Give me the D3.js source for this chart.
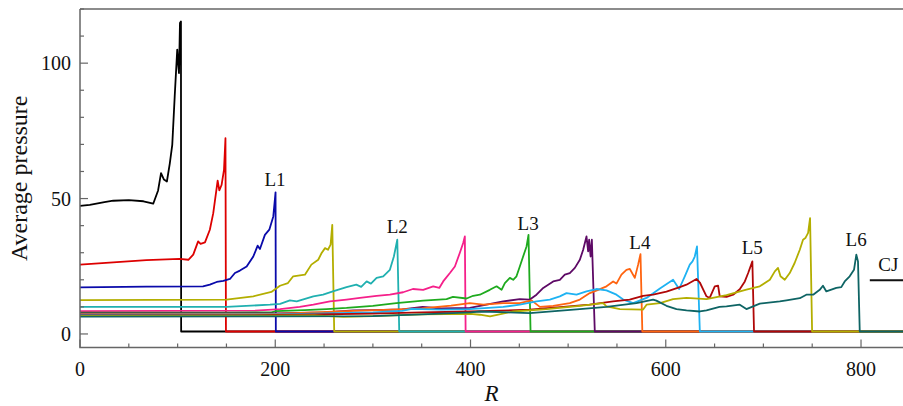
<!DOCTYPE html>
<html>
<head>
<meta charset="utf-8">
<script src="https://cdn.jsdelivr.net/npm/d3@7"></script>
<style>
  body { margin: 0; background: #fff; }
  svg { display: block; }
  text { font-family: "Liberation Serif", "DejaVu Serif", serif; fill: #111; }
</style>
</head>
<body>
<script>
// Data: [R, average pressure] pairs
const sBlack = [[0,47.3],[10,47.7],[25,48.7],[34,49.2],[50,49.4],[65,49],[75,48.1],[80,53],[83,59.4],[86,57],[89,56.3],[92,63],[94.5,69.8],[97,87.7],[99.6,105],[100.5,100],[101.4,96.3],[102.4,114.8],[103.4,115.4],[103.6,0.9],[843,0.9]];
const sRed = [[0,25.6],[34,26.4],[68,27.3],[102,27.7],[111,27.4],[116,29.3],[121,34.2],[123.5,33.3],[128,33.8],[133,38.5],[136.5,44.6],[141,56.6],[142.7,53],[145,55],[147.5,60.6],[149,72.3],[149.5,0.9],[843,0.9]];
const sBlue = [[0,17.2],[68,17.5],[126,17.6],[133,18.2],[140,19.2],[146.8,19.6],[153.6,20.3],[158.7,22.5],[163.8,23.4],[170.7,24.9],[177.5,28.6],[182,32.6],[184.3,31.4],[189.4,36.6],[193.9,38.5],[198,43.4],[200.3,52.3],[200.6,0.9],[843,0.9]];
const sOlive1 = [[0,12.5],[150,12.7],[177.5,13.9],[196,15.5],[204.8,17.8],[213,18.8],[218.4,21.3],[230.4,21.9],[237,25.6],[244,27.4],[247.5,29.9],[251,31.7],[254,31.1],[256.7,33],[258.4,40.3],[260.4,0.9],[843,0.9]];
const sCyan = [[0,10],[150,10],[194.6,10.8],[205,11.1],[215,12.4],[222,12],[239,13.9],[249,14.5],[259,15.7],[273,17.3],[283,18.2],[288,17.4],[293.6,19.4],[298,18.6],[303.8,20.7],[310.6,21.3],[317.4,23.7],[321.5,28.6],[325,34.8],[327,0.9],[843,0.9]];
const sPink = [[0,8.4],[180,8.6],[205,9.2],[225,10],[239,10.8],[256,12],[273,12.7],[286.7,13.3],[303.8,14.1],[317.4,14.5],[331,15.4],[341,16.6],[351.5,16.3],[361.8,17.6],[368,17],[372,19.4],[378.9,22.5],[384,24.9],[389,29.9],[392.5,33.6],[394.2,36],[395,0.9],[843,0.9]];
const sGreen = [[0,7.9],[150,7.9],[196,8],[201,8.4],[230,8.8],[252.5,9.2],[273,9.6],[300,10.4],[324,11.4],[351.5,12.3],[375.5,12.9],[382,13.7],[396,13.1],[402.7,14.1],[409.6,14.5],[419.8,16.3],[426.7,17.6],[431.8,16.3],[435.2,18.8],[440.3,20.7],[443.7,20],[447.1,21.3],[450.5,24.9],[453.9,28.6],[457.4,32.3],[459.4,36.6],[461.5,0.9],[843,0.9]];
const sPurple = [[0,7.6],[200,7.6],[250,8],[280,8.7],[300,8.8],[330,9.1],[351,10],[370,9.4],[399.3,9.6],[416.4,10.8],[433.5,12],[450.5,12.9],[460.8,12.7],[467.6,14.5],[474.5,17],[484.7,19.4],[491.5,20],[496.6,21.9],[501.7,22.5],[506.9,24.4],[512,27.4],[515.4,31.1],[518.8,36],[520.5,30.5],[521.5,34.8],[523,28.6],[524.3,34.8],[527.3,0.9],[843,0.9]];
const sOrange = [[0,7.3],[200,7.4],[240,8],[280,8.5],[320,9],[350,9.4],[380,10.5],[399.3,11.4],[413,10.8],[433.5,11.4],[450.5,11.4],[462.5,12.4],[471,10],[484.7,10.4],[501.7,11.4],[512,12.7],[522.2,15.1],[530.8,16.3],[539.3,17.6],[546.1,19.4],[549.5,18.6],[554.6,21.9],[559.7,23.7],[563.2,24],[568.3,20.7],[571.7,25.6],[574.1,29.5],[576,0.9],[843,0.9]];
const sSky = [[0,7.1],[200,7.2],[250,7.6],[300,8],[330,8.5],[340,9.3],[370,9],[399,9.2],[433.5,10],[450.5,10.8],[467.6,12],[481.3,12.7],[491.5,13.9],[498.3,15.1],[508.6,14.5],[518.8,15.7],[529,16.6],[539.3,16.1],[549.5,14.5],[556.4,12.7],[566.6,11.4],[580.3,13.3],[594,16.8],[607.5,20],[613.7,16.6],[619.5,21.3],[624.6,25.6],[627.4,26.8],[629.7,28.6],[632,32.3],[634.9,0.9],[843,0.9]];
const sDarkRed = [[0,6.9],[200,7],[300,7.5],[350,8],[400,8.3],[430,8.6],[460.8,9],[494.9,10],[522,10.8],[546,12],[563,12.7],[576.8,14.1],[587,14.5],[600.7,15.6],[614.4,17.3],[621.2,18.2],[631.5,20.3],[634.9,19],[641.7,13.9],[645,13.3],[650.2,17.6],[653.6,17.8],[655.3,13.9],[662.2,13.7],[669,14.5],[675.8,16.5],[681,19.4],[684.4,22.5],[688.7,26.8],[690.4,0.9],[843,0.9]];
const sOlive2 = [[0,6.7],[200,6.8],[240,6.9],[270,6.3],[300,6.6],[350,7.2],[400,7.4],[409.6,7.1],[420,6.5],[443.7,8.3],[478,9.2],[512,10.4],[535.8,11.4],[539.3,10.2],[553,9.2],[576.8,9],[580.3,10.8],[594,11.4],[607.5,12.9],[621.2,13.3],[641.7,12.9],[662.2,14.3],[682.6,16.4],[696.3,17.6],[706.6,20],[711.7,23.1],[715,24.4],[717.5,21.3],[721.9,20],[727,22.5],[732,26.2],[737.3,31.1],[740.6,34.8],[743,35.4],[745.8,37.3],[747.8,42.8],[749.9,0.9],[843,0.9]];
const sTeal = [[0,6.4],[200,6.5],[300,6.6],[350,7.2],[400,8],[409.6,8.3],[460.8,7.7],[512,9.2],[539.3,10],[570,11.4],[587,12.7],[590.4,12.3],[600.7,10.4],[611,9.2],[621.2,8.7],[635,8.3],[641.7,8.7],[655,10],[662.2,10.2],[675.8,10.8],[682.6,9.2],[696.3,11.2],[716.8,12],[723.6,12.4],[737.3,13.2],[744,14.5],[751,14.5],[757.7,16.3],[761,17.8],[764.5,15.7],[774.7,17],[779.8,17.3],[783.3,19.4],[788.4,21.3],[792.8,23.7],[795.2,29.3],[796.9,26.8],[798.7,0.9],[843,0.9]];

const seriesData = [sBlack, sRed, sBlue, sOlive1, sCyan, sPink, sGreen, sPurple, sOrange, sSky, sDarkRed, sOlive2, sTeal];
const seriesColors = ["#000000", "#dd0000", "#0a0aaa", "#b3ae00", "#20b0b0", "#f5208a", "#1eaa1e", "#5e0a66", "#ff6410", "#1eb2f2", "#b00808", "#b3ae00", "#0e6464"];

const labelNames = ["L1", "L2", "L3", "L4", "L5", "L6", "CJ"];
const labelR = [199.7, 325, 459, 573.5, 688.6, 795, 828];
const labelP = [54.8, 37.3, 38.5, 31.4, 29.6, 32.3, 23.1];
const cjLevel = 19.8;

const xTicks = [0, 200, 400, 600, 800];
const yTicks = [0, 50, 100];

const width = 903;
const height = 406;
const margin = { left: 80, top: 9, right: 0, bottom: 58.5 };

const x = d3.scaleLinear().domain([0, 843]).range([margin.left, width - margin.right]);
const y = d3.scaleLinear().domain([-5, 120]).range([height - margin.bottom, margin.top]);

const svg = d3
  .select("body")
  .append("svg")
  .attr("width", width)
  .attr("height", height);

// clip lines to the plot frame
svg
  .append("clipPath")
  .attr("id", "plot")
  .append("rect")
  .attr("x", margin.left)
  .attr("y", margin.top)
  .attr("width", width - margin.left)
  .attr("height", height - margin.bottom - margin.top);

const line = d3
  .line()
  .x((d) => x(d[0]))
  .y((d) => y(d[1]));

// later runs are drawn on top, so their baselines cover the earlier ones
svg
  .append("g")
  .attr("clip-path", "url(#plot)")
  .selectAll("path")
  .data(seriesData)
  .join("path")
  .attr("d", line)
  .attr("fill", "none")
  .attr("stroke", (d, i) => seriesColors[i])
  .attr("stroke-width", 1.8)
  .attr("stroke-linejoin", "round");

// frame: left, bottom, top (no right side)
const axisColor = "#666";
const frame = svg.append("g").attr("stroke", axisColor).attr("stroke-width", 1.5).attr("fill", "none");
frame.append("path").attr("d", `M${x(0)},${y(120)}V${y(-5)}H${width}`);
frame.append("path").attr("d", `M${x(0)},${y(120)}H${width}`);

// inward ticks, major every 200 / 50, minor every 50 / 10
svg
  .append("g")
  .selectAll("line")
  .data(d3.range(0, 843, 50))
  .join("line")
  .attr("x1", (d) => x(d))
  .attr("x2", (d) => x(d))
  .attr("y1", y(-5))
  .attr("y2", (d) => y(-5) - (d % 200 === 0 ? 8 : 4))
  .attr("stroke", axisColor)
  .attr("stroke-width", 1.2);

svg
  .append("g")
  .selectAll("line")
  .data(d3.range(0, 121, 10))
  .join("line")
  .attr("x1", x(0))
  .attr("x2", (d) => x(0) + (d % 50 === 0 ? 8 : 4))
  .attr("y1", (d) => y(d))
  .attr("y2", (d) => y(d))
  .attr("stroke", axisColor)
  .attr("stroke-width", 1.2);

// tick labels
svg
  .append("g")
  .selectAll("text")
  .data(xTicks)
  .join("text")
  .attr("x", (d) => x(d))
  .attr("y", y(-5) + 28)
  .attr("text-anchor", "middle")
  .attr("font-size", 20)
  .text((d) => d);

svg
  .append("g")
  .selectAll("text")
  .data(yTicks)
  .join("text")
  .attr("x", x(0) - 9)
  .attr("y", (d) => y(d) + 7)
  .attr("text-anchor", "end")
  .attr("font-size", 20)
  .text((d) => d);

// axis titles
svg
  .append("text")
  .attr("x", (x(0) + width) / 2)
  .attr("y", 401)
  .attr("text-anchor", "middle")
  .attr("font-size", 23)
  .attr("font-style", "italic")
  .text("R");

svg
  .append("text")
  .attr("transform", `translate(27,${(y(120) + y(-5)) / 2}) rotate(-90)`)
  .attr("text-anchor", "middle")
  .attr("font-size", 24)
  .text("Average pressure");

// curve labels
svg
  .append("g")
  .selectAll("text")
  .data(labelNames)
  .join("text")
  .attr("x", (d, i) => x(labelR[i]))
  .attr("y", (d, i) => y(labelP[i]))
  .attr("text-anchor", "middle")
  .attr("font-size", 19)
  .text((d) => d);

svg
  .append("line")
  .attr("x1", x(809))
  .attr("x2", width)
  .attr("y1", y(cjLevel))
  .attr("y2", y(cjLevel))
  .attr("stroke", "#111")
  .attr("stroke-width", 2);
</script>
</body>
</html>
